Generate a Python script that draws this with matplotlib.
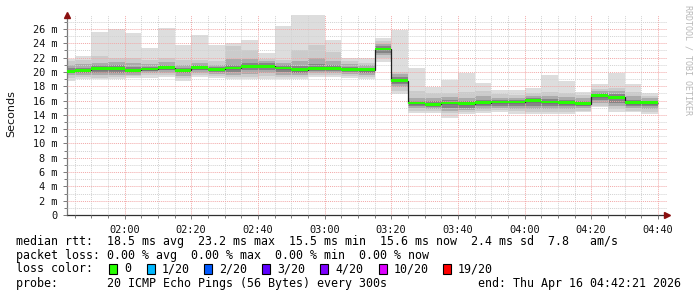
import numpy as np
import matplotlib
matplotlib.use("Agg")
import matplotlib.pyplot as plt
from matplotlib.patches import Rectangle
from matplotlib.ticker import MultipleLocator, FuncFormatter

# ---------------- data (ms) ----------------
# 5-minute bins starting 01:40 (minutes after midnight)
bin_start_min = [100 + 5 * i for i in range(36)]
bin_step = 5

ping_min = [18.8, 19.05, 19.0, 19.0, 19.2, 19.2, 19.3, 18.8, 19.25, 19.2, 19.0, 19.0,
            19.05, 19.0, 19.0, 19.3, 19.3, 19.1, 19.0, 21.4, 16.9, 14.3, 14.2, 13.6,
            14.1, 14.2, 14.45, 14.15, 14.1, 14.1, 14.15, 14.35, 15.05, 14.45, 14.35, 14.1]
ping_p2 = [19.2, 19.3, 19.2, 19.3, 19.4, 19.5, 19.5, 19.1, 19.5, 19.4, 19.3, 19.3,
           19.4, 19.3, 19.3, 19.5, 19.5, 19.4, 19.3, 21.9, 17.4, 14.6, 14.5, 14.2,
           14.4, 14.5, 14.7, 14.5, 14.4, 14.4, 14.4, 14.6, 15.3, 14.8, 14.6, 14.4]
ping_p4 = [19.5, 19.6, 19.5, 19.6, 19.6, 19.8, 19.8, 19.4, 19.8, 19.7, 19.6, 19.7,
           19.8, 19.6, 19.6, 19.8, 19.8, 19.7, 19.6, 22.3, 17.9, 14.9, 14.8, 14.6,
           14.7, 14.8, 15.0, 14.8, 14.8, 14.8, 14.8, 14.9, 15.7, 15.2, 14.9, 14.8]
ping_p7 = [19.8, 19.9, 19.9, 19.9, 19.9, 20.1, 20.2, 19.8, 20.2, 20.0, 20.0, 20.2,
           20.3, 20.0, 19.9, 20.1, 20.1, 20.0, 19.9, 22.7, 18.3, 15.2, 15.1, 15.0,
           15.0, 15.2, 15.3, 15.2, 15.3, 15.2, 15.2, 15.2, 16.1, 15.7, 15.2, 15.2]
ping_p9 = [20.0, 20.1, 20.2, 20.2, 20.1, 20.3, 20.45, 20.05, 20.45, 20.2, 20.35, 20.6,
           20.6, 20.35, 20.15, 20.35, 20.35, 20.2, 20.15, 23.0, 18.6, 15.45, 15.35, 15.45,
           15.35, 15.5, 15.6, 15.6, 15.8, 15.6, 15.5, 15.4, 16.5, 16.2, 15.5, 15.5]
median = [20.1, 20.2, 20.45, 20.45, 20.2, 20.4, 20.6, 20.2, 20.6, 20.35, 20.55, 20.8,
          20.8, 20.55, 20.3, 20.5, 20.5, 20.35, 20.3, 23.2, 18.8, 15.65, 15.5, 15.65,
          15.55, 15.7, 15.8, 15.8, 16.0, 15.8, 15.7, 15.55, 16.7, 16.45, 15.7, 15.7]
ping_p12 = [20.2, 20.35, 20.6, 20.6, 20.4, 20.5, 20.75, 20.35, 20.75, 20.5, 20.7, 21.0,
            21.0, 20.7, 20.5, 20.7, 20.65, 20.5, 20.45, 23.35, 19.0, 15.8, 15.65, 15.8,
            15.7, 15.85, 15.95, 15.95, 16.15, 15.95, 15.85, 15.7, 16.85, 16.6, 15.85, 15.85]
ping_p14 = [20.5, 20.6, 20.9, 20.9, 20.7, 20.7, 21.0, 20.6, 21.0, 20.7, 21.0, 21.3,
            21.2, 21.0, 20.8, 21.1, 20.9, 20.75, 20.6, 23.6, 19.3, 16.0, 15.9, 16.1,
            15.9, 16.1, 16.1, 16.1, 16.3, 16.2, 16.1, 15.9, 17.0, 16.9, 16.1, 16.0]
ping_p17 = [21.0, 21.1, 21.3, 21.4, 21.2, 21.1, 21.4, 21.0, 21.3, 21.0, 21.8, 21.8,
            21.5, 21.3, 21.5, 22.0, 21.5, 21.1, 20.9, 23.9, 19.7, 16.4, 16.3, 16.5,
            16.3, 16.6, 16.4, 16.4, 16.6, 16.6, 16.5, 16.3, 17.3, 17.3, 16.6, 16.3]
ping_p19 = [21.5, 21.7, 22.2, 22.0, 21.9, 21.7, 22.0, 21.6, 21.7, 21.5, 23.6, 23.0,
            21.8, 21.6, 23.0, 23.8, 22.8, 21.5, 21.3, 24.3, 20.0, 17.3, 17.1, 17.0,
            17.2, 17.3, 16.9, 16.8, 17.0, 17.2, 17.0, 16.8, 17.6, 17.8, 17.2, 16.6]
ping_max = [21.8, 22.2, 25.6, 26.0, 25.4, 23.3, 26.1, 23.8, 25.2, 23.8, 24.0, 24.5,
            22.6, 26.4, 28.5, 28.5, 24.4, 22.0, 22.0, 24.7, 25.9, 20.5, 17.9, 18.9,
            19.9, 18.4, 17.5, 17.5, 17.8, 19.6, 18.7, 17.2, 18.3, 19.9, 18.3, 17.1]

y_tick_values = [0, 2, 4, 6, 8, 10, 12, 14, 16, 18, 20, 22, 24, 26]

legend_line1 = "median rtt:  18.5 ms avg  23.2 ms max  15.5 ms min  15.6 ms now  2.4 ms sd  7.8   am/s"
legend_line2 = "packet loss: 0.00 % avg  0.00 % max  0.00 % min  0.00 % now"
loss_labels = ["0", "1/20", "2/20", "3/20", "4/20", "10/20", "19/20"]
loss_colors = ["#26ff00", "#00b8ff", "#0059ff", "#5e00ff", "#7e00ff", "#dd00ff", "#ff0000"]
probe_text = "probe:       20 ICMP Echo Pings (56 Bytes) every 300s"
end_text = "end: Thu Apr 16 04:42:21 2026"

# ---------------- figure ----------------
W, H = 697, 297
fig = plt.figure(figsize=(W / 100, H / 100), dpi=100, facecolor="white")

def fx(x):
    return x / W

def fy(y):
    return 1 - y / H

ax_l, ax_r, ax_t, ax_b = 67, 667, 15, 215
ax = fig.add_axes([fx(ax_l), fy(ax_b), (ax_r - ax_l) / W, (ax_b - ax_t) / H])
ax.set_facecolor("white")

edges = np.array(bin_start_min + [bin_start_min[-1] + bin_step], dtype=float)

layers = [
    (ping_min, ping_max, "#dddddd"),
    (ping_p2, ping_p19, "#cbcbcb"),
    (ping_p4, ping_p17, "#ababab"),
    (ping_p7, ping_p14, "#858585"),
    (ping_p9, ping_p12, "#555555"),
]
for lo, hi, c in layers:
    ax.stairs(np.array(hi), edges, baseline=np.array(lo), fill=True,
              color=c, linewidth=0, zorder=1)

med = np.array(median)
ax.stairs(med, edges, baseline=None, color="#202020", linewidth=0.9, zorder=3)
sw = 0.2
ax.stairs(med + sw, edges, baseline=med - sw, fill=True, color=loss_colors[0],
          linewidth=0, zorder=4)

x0 = 102.75
ax.set_xlim(x0, x0 + 180)
ax.set_ylim(0, 200 / 7.154)

ax.xaxis.set_major_locator(MultipleLocator(20))
ax.xaxis.set_minor_locator(MultipleLocator(5))
ax.xaxis.set_major_formatter(FuncFormatter(lambda m, p: f"{int(m // 60):02d}:{int(round(m % 60)):02d}"))
ax.set_yticks(y_tick_values)
ax.yaxis.set_minor_locator(MultipleLocator(1))
ax.yaxis.set_major_formatter(FuncFormatter(lambda v, p: "0" if v == 0 else f"{v:.0f} m"))

ax.set_axisbelow(False)
ax.grid(which="minor", color="#d2d2d2", linewidth=0.7, linestyle=(0, (1, 1)), zorder=2.5)
ax.grid(which="major", color="#f2a8a8", linewidth=0.7, linestyle=(0, (1, 1)), zorder=2.6)

for s in ["top", "right"]:
    ax.spines[s].set_visible(False)
ax.spines["left"].set_color("#7a7a7a")
ax.spines["bottom"].set_color("#303030")
ax.spines["left"].set_linewidth(0.9)
ax.spines["bottom"].set_linewidth(0.9)

mono = "DejaVu Sans Mono"
ax.tick_params(which="both", direction="out", color="#7a7a7a", width=0.7)
ax.tick_params(which="major", length=3, labelsize=7.4, pad=4, labelcolor="#111111")
ax.tick_params(which="minor", length=2)
for lab in ax.get_xticklabels() + ax.get_yticklabels():
    lab.set_family(mono)

# arrows
ax.plot([0], [1.0], marker="^", markersize=4.5, color="#8b1010", transform=ax.transAxes,
        clip_on=False, zorder=6)
ax.plot([1.0], [0], marker=">", markersize=4.5, color="#8b1010", transform=ax.transAxes,
        clip_on=False, zorder=6)

# y label
fig.text(fx(11), fy(114), "Seconds", rotation=90, ha="center", va="center",
         fontsize=8, family="DejaVu Sans", color="#111111")

# watermark
fig.text(fx(688), fy(5), "RRDTOOL / TOBI OETIKER", rotation=-90, ha="center", va="top",
         fontsize=6, family=mono, color="#b8b8b8")

# legend
fs = 8.4
fig.text(fx(16), fy(241), legend_line1, ha="left", va="center", fontsize=fs, family=mono)
fig.text(fx(16), fy(256), legend_line2, ha="left", va="center", fontsize=fs, family=mono)
fig.text(fx(16), fy(269), "loss color:", ha="left", va="center", fontsize=fs, family=mono)
box_x = [109, 147, 204, 262, 320, 379, 443]
for bx, lab, col in zip(box_x, loss_labels, loss_colors):
    fig.patches.append(Rectangle((fx(bx), fy(274)), 8 / W, 10 / H, transform=fig.transFigure,
                                 facecolor=col, edgecolor="black", linewidth=0.8))
    fig.text(fx(bx + 15), fy(269), lab, ha="left", va="center", fontsize=fs, family=mono)
fig.text(fx(16), fy(284), probe_text, ha="left", va="center", fontsize=fs, family=mono)
fig.text(fx(681), fy(284), end_text, ha="right", va="center", fontsize=fs, family=mono)

fig.savefig("out.png", dpi=100, facecolor="white")
